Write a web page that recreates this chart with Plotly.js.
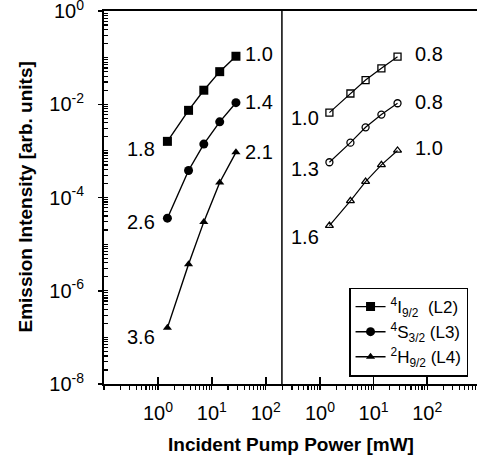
<!DOCTYPE html>
<html>
<head>
<meta charset="utf-8">
<script src="https://cdn.plot.ly/plotly-3.0.1.min.js"></script>
<style>
  html, body { margin: 0; padding: 0; background: #fff; }
  #chart { width: 477px; height: 457px; }
</style>
</head>
<body>
<div id="chart"></div>
<script>
// ---- data ----
const pumpPower = [1.5, 3.7, 7.1, 14, 28];           // mW

// left panel (filled symbols)
const I92_left = [1.6e-3, 7.4e-3, 2.0e-2, 5.0e-2, 1.07e-1];
const S32_left = [3.6e-5, 3.8e-4, 1.4e-3, 4.2e-3, 1.08e-2];
const H92_left = [1.6e-7, 3.7e-6, 3.0e-5, 2.1e-4, 9.3e-4];

// right panel (open symbols)
const I92_right = [6.6e-3, 1.7e-2, 3.3e-2, 5.9e-2, 1.05e-1];
const S32_right = [5.7e-4, 1.5e-3, 3.2e-3, 6.0e-3, 1.05e-2];
const H92_right = [2.5e-5, 8.5e-5, 2.2e-4, 5.0e-4, 1.02e-3];

const seriesNames = ['<sup>4</sup>I<sub>9/2</sub>  (L2)', '<sup>4</sup>S<sub>3/2</sub> (L3)', '<sup>2</sup>H<sub>9/2</sub> (L4)'];

// slope labels
const slopeLowLeft   = ['1.8', '2.6', '3.6'];
const slopeHighLeft  = ['1.0', '1.4', '2.1'];
const slopeLowRight  = ['1.0', '1.3', '1.6'];
const slopeHighRight = ['0.8', '0.8', '1.0'];

// tick labels (major decades)
const yMajorExp = [-8, -6, -4, -2, 0];
const xMajorExp = [0, 1, 2];

// ---- helpers (styling only) ----
function decadeTicks(n0, n1, labelExps) {
  const vals = [], text = [];
  for (let n = n0; n <= n1; n++) {
    for (let k = 1; k <= 9; k++) {
      vals.push(k * Math.pow(10, n));
      text.push(k === 1 && labelExps.indexOf(n) >= 0 ? '10<sup>' + n + '</sup>' : '');
    }
  }
  return { vals, text };
}
const FONT = 'Liberation Sans, Arial, Helvetica, sans-serif';

const yAll = decadeTicks(-8, 0, yMajorExp);
const xAll = decadeTicks(-1, 2, xMajorExp);

const leftSets  = [I92_left, S32_left, H92_left];
const rightSets = [I92_right, S32_right, H92_right];
const filledSym = ['square', 'circle', 'triangle-up'];
const openSym   = ['square-open', 'circle-open', 'triangle-up-open'];
const filledSize = [9, 9, 8];
const openSize   = [7, 7, 7];

const traces = [];
leftSets.forEach((ys, i) => {
  traces.push({
    x: pumpPower, y: ys, xaxis: 'x', yaxis: 'y', type: 'scatter', mode: 'lines+markers',
    name: seriesNames[i], showlegend: true,
    line: { color: '#000', width: 1.4 },
    marker: { symbol: filledSym[i], size: filledSize[i], color: '#000' }
  });
});
rightSets.forEach((ys, i) => {
  traces.push({
    x: pumpPower, y: ys, xaxis: 'x2', yaxis: 'y', type: 'scatter', mode: 'lines+markers',
    name: seriesNames[i], showlegend: false,
    line: { color: '#000', width: 1.2 },
    marker: { symbol: openSym[i], size: openSize[i], color: '#000', line: { width: 1.3, color: '#000' } }
  });
});
// transparent carriers so the major-tick overlay axes are built
[['x3', 'y'], ['x4', 'y'], ['x', 'y3']].forEach(p => {
  traces.push({ x: pumpPower, y: I92_left, xaxis: p[0], yaxis: p[1], type: 'scatter', mode: 'lines',
    opacity: 0, showlegend: false, hoverinfo: 'skip', line: { width: 0.1 } });
});

const annotations = [];
const lowShiftL = [-8, -4, -9], highShiftL = [2, 1, 0];
const lowShiftR = [-5, -7, -11], highShiftR = [3, 1, 2];
leftSets.forEach((ys, i) => {
  annotations.push({ xref: 'x', yref: 'y', x: Math.log10(pumpPower[0]), y: Math.log10(ys[0]),
    text: slopeLowLeft[i], showarrow: false, xanchor: 'right', yanchor: 'middle',
    xshift: -10, yshift: lowShiftL[i], font: { family: FONT, size: 20, color: '#000' } });
  annotations.push({ xref: 'x', yref: 'y', x: Math.log10(pumpPower[4]), y: Math.log10(ys[4]),
    text: slopeHighLeft[i], showarrow: false, xanchor: 'left', yanchor: 'middle',
    xshift: 7, yshift: highShiftL[i], font: { family: FONT, size: 20, color: '#000' } });
});
rightSets.forEach((ys, i) => {
  annotations.push({ xref: 'x2', yref: 'y', x: Math.log10(pumpPower[0]), y: Math.log10(ys[0]),
    text: slopeLowRight[i], showarrow: false, xanchor: 'right', yanchor: 'middle',
    xshift: -8, yshift: lowShiftR[i], font: { family: FONT, size: 20, color: '#000' } });
  annotations.push({ xref: 'x2', yref: 'y', x: Math.log10(pumpPower[4]), y: Math.log10(ys[4]),
    text: slopeHighRight[i], showarrow: false, xanchor: 'left', yanchor: 'middle',
    xshift: 15, yshift: highShiftR[i], font: { family: FONT, size: 20, color: '#000' } });
});
annotations.push({ xref: 'paper', yref: 'paper', x: 0.5, y: 0, yshift: -60, text: 'Incident Pump Power [mW]',
  showarrow: false, xanchor: 'center', yanchor: 'middle',
  font: { family: FONT, size: 19, color: '#000', weight: 'bold' } });
annotations.push({ xref: 'paper', yref: 'paper', x: 0, xshift: -79, y: 0.5, text: 'Emission Intensity [arb. units]',
  showarrow: false, textangle: -90, xanchor: 'center', yanchor: 'middle',
  font: { family: FONT, size: 19, color: '#000', weight: 'bold' } });

const split = 0.477;
const leftRange = [-1, 2.3], rightRange = [-0.71, 2.93];
const xMain = {
  type: 'log', showline: true, linecolor: '#000', linewidth: 2, mirror: true,
  showgrid: false, zeroline: false, anchor: 'y',
  tickmode: 'array', tickvals: xAll.vals, ticktext: xAll.text,
  ticks: 'outside', ticklen: 4, tickwidth: 1.2, tickcolor: '#000',
  ticklabelstandoff: 6, ticklabeloverflow: 'allow',
  tickfont: { family: FONT, size: 20, color: '#000' }
};
const xMajor = {
  visible: true, type: 'log', showline: false, showgrid: false, zeroline: false, showticklabels: false,
  anchor: 'y', side: 'bottom',
  tickmode: 'array', tickvals: xMajorExp.map(n => Math.pow(10, n)),
  ticks: 'inside', ticklen: 7, tickwidth: 1.5, tickcolor: '#000'
};

const layout = {
  width: 477, height: 457,
  margin: { l: 104, r: 0, t: 11, b: 73, pad: 0 },
  paper_bgcolor: '#fff', plot_bgcolor: 'rgba(0,0,0,0)',
  font: { family: FONT, color: '#000' },
  showlegend: true,
  xaxis: Object.assign({}, xMain, { domain: [0, split], range: leftRange }),
  xaxis2: Object.assign({}, xMain, { domain: [split, 1], range: rightRange }),
  xaxis3: Object.assign({}, xMajor, { overlaying: 'x', range: leftRange }),
  xaxis4: Object.assign({}, xMajor, { overlaying: 'x2', range: rightRange }),
  yaxis: {
    type: 'log', range: [-8, 0], showgrid: false, zeroline: false, anchor: 'x',
    showline: true, linecolor: '#000', linewidth: 2,
    tickmode: 'array', tickvals: yAll.vals, ticktext: yAll.text,
    ticks: 'inside', ticklen: 4, tickwidth: 1.2, tickcolor: '#000',
    ticklabelstandoff: 14, ticklabeloverflow: 'allow',
    tickfont: { family: FONT, size: 20, color: '#000' }
  },
  yaxis3: {
    visible: true, type: 'log', range: [-8, 0], anchor: 'x', overlaying: 'y', side: 'left',
    showline: false, showticklabels: false, showgrid: false, zeroline: false,
    tickmode: 'array', tickvals: yMajorExp.map(n => Math.pow(10, n)),
    ticks: 'outside', ticklen: 5, tickwidth: 1.5, tickcolor: '#000'
  },
  shapes: [
    { type: 'line', xref: 'paper', yref: 'paper', x0: split, x1: split, y0: 0, y1: 1, line: { color: '#000', width: 1.5 } }
  ],
  legend: {
    x: 0.976, xanchor: 'right', y: 0.02, yanchor: 'bottom',
    bgcolor: '#fff', bordercolor: '#000', borderwidth: 1.5,
    font: { family: FONT, size: 17, color: '#000' },
    itemwidth: 30, tracegroupgap: 0
  },
  annotations: annotations
};

Plotly.newPlot('chart', traces, layout, { displayModeBar: false, staticPlot: true });
</script>
</body>
</html>
